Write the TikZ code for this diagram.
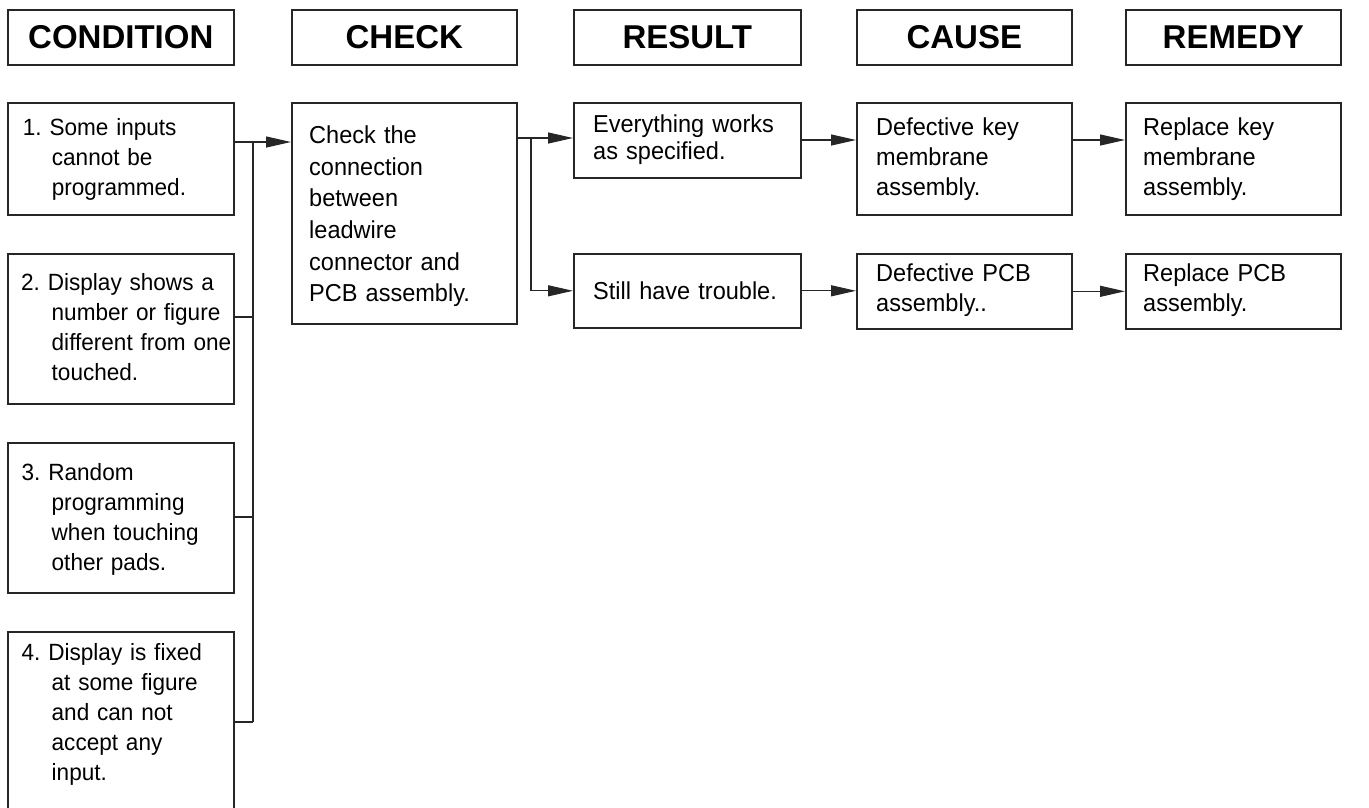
\documentclass[tikz,border=0pt]{standalone}
\usepackage{fontspec}
\setmainfont{Liberation Sans}
\newfontfamily\bodyfont[FakeStretch=0.96]{Liberation Sans}
\usetikzlibrary{arrows.meta}
\frenchspacing
\tikzset{
  box/.style={draw=black!85, line width=1.6pt, inner sep=0pt, anchor=north west},
  hdr/.style={box, minimum height=55pt, font=\fontsize{33}{36}\selectfont\bfseries},
  txt/.style={anchor=base west, inner sep=0pt, align=left, text width=300pt},
  ctxt/.style={txt, font=\bodyfont\fontsize{23.5}{30}\selectfont},
  btxt/.style={txt, font=\bodyfont\fontsize{24.5}{30}\selectfont},
  conn/.style={draw=black!85, line width=1.2pt},
  arr/.style={conn, -{Triangle[length=25pt,width=11pt]}},
}
\begin{document}
\begin{tikzpicture}[x=1pt,y=-1pt]
\useasboundingbox (0,0) rectangle (1369,807);
\clip (0,0) rectangle (1369,807);
% headers
\node[hdr, minimum width=226pt] (hcond) at (7,9) {CONDITION};
\node[hdr, minimum width=225pt] (hchk) at (291,9) {CHECK};
\node[hdr, minimum width=227pt] (hres) at (573,9) {RESULT};
\node[hdr, minimum width=215pt] (hcau) at (856,9) {CAUSE};
\node[hdr, minimum width=215pt] (hrem) at (1125,9) {REMEDY};
% condition boxes
\node[box, minimum width=226pt, minimum height=112pt] (c1) at (7,102) {};
\node[box, minimum width=226pt, minimum height=150pt] (c2) at (7,253) {};
\node[box, minimum width=226pt, minimum height=150pt] (c3) at (7,442) {};
\node[box, minimum width=226pt, minimum height=182pt] (c4) at (7,631) {};
\node[ctxt] (c1t) at (22.7,135.7) {1. Some inputs\\\hspace*{29pt}cannot be\\\hspace*{29pt}programmed.};
\node[ctxt] (c2t) at (21,290.7) {2. Display shows a\\\hspace*{30.5pt}number or figure\\\hspace*{30.5pt}different from one\\\hspace*{30.5pt}touched.};
\node[ctxt] (c3t) at (21.5,480.5) {3. Random\\\hspace*{30pt}programming\\\hspace*{30pt}when touching\\\hspace*{30pt}other pads.};
\node[ctxt] (c4t) at (21.5,660) {4. Display is fixed\\\hspace*{30pt}at some figure\\\hspace*{30pt}and can not\\\hspace*{30pt}accept any\\\hspace*{30pt}input.};
% check box
\node[box, minimum width=225pt, minimum height=221pt] (chk) at (291,102) {};
\node[btxt, font=\bodyfont\fontsize{24.5}{31.7}\selectfont] (chkt) at (309,143.3) {Check the\\connection\\between\\leadwire\\connector and\\PCB assembly.};
% result boxes
\node[box, minimum width=227pt, minimum height=75pt] (r1) at (573,102) {};
\node[box, minimum width=227pt, minimum height=74pt] (r2) at (573,253) {};
\node[btxt, font=\bodyfont\fontsize{24.5}{26.5}\selectfont] (r1t) at (593,132.7) {Everything works\\as specified.};
\node[btxt] (r2t) at (593,299.5) {Still have trouble.};
% cause boxes
\node[box, minimum width=215pt, minimum height=112pt] (ca1) at (856,102) {};
\node[box, minimum width=215pt, minimum height=75pt] (ca2) at (856,253) {};
\node[btxt] (ca1t) at (876,135.7) {Defective key\\membrane\\assembly.};
\node[btxt] (ca2t) at (876,281.7) {Defective PCB\\assembly..};
% remedy boxes
\node[box, minimum width=215pt, minimum height=112pt] (re1) at (1125,102) {};
\node[box, minimum width=215pt, minimum height=75pt] (re2) at (1125,253) {};
\node[btxt] (re1t) at (1143,135.7) {Replace key\\membrane\\assembly.};
\node[btxt] (re2t) at (1143,281.7) {Replace PCB\\assembly.};
% connectors: condition bus
\coordinate (j1) at (253,142);
\coordinate (j2) at (253,317);
\coordinate (j3) at (253,517);
\coordinate (j4) at (253,722);
\draw[arr] (c1.east |- j1) -- (chk.west |- j1);
\draw[conn] (j1) -- (j4);
\draw[conn] (c2.east |- j2) -- (j2);
\draw[conn] (c3.east |- j3) -- (j3);
\draw[conn] (c4.east |- j4) -- (j4);
% check to results
\coordinate (s1) at (531,138);
\draw[arr] (chk.east |- s1) -- (r1.west |- s1);
\draw[conn] (s1) -- (s1 |- r2.west);
\draw[arr] (s1 |- r2.west) -- (r2.west);
% results to causes
\coordinate (k1) at (0,140);
\draw[arr] (r1.east |- k1) -- (ca1.west |- k1);
\draw[arr] (r2.east) -- (ca2.west |- r2.east);
% causes to remedies
\draw[arr] (ca1.east |- k1) -- (re1.west |- k1);
\draw[arr] (ca2.east) -- (re2.west |- ca2.east);
\end{tikzpicture}
\end{document}
